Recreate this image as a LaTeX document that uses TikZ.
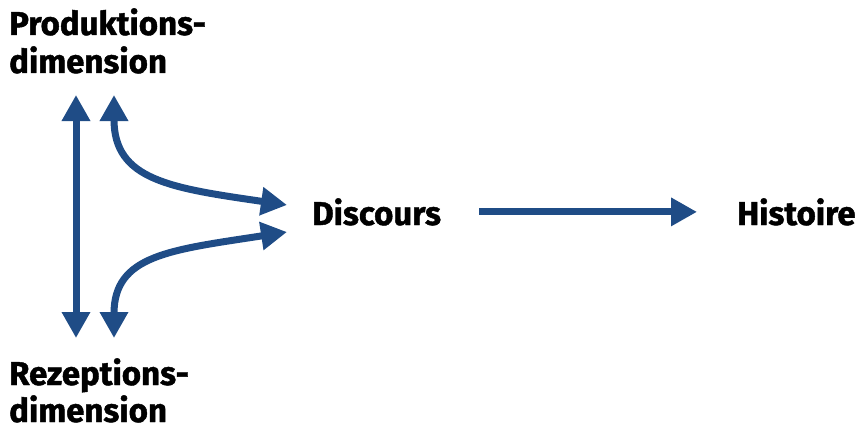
\documentclass[tikz,border=0pt]{standalone}
\usepackage{fontspec}
\setmainfont{Fira Sans}[BoldFeatures={FakeBold=1.3}]
\usetikzlibrary{arrows.meta}
\definecolor{flowblue}{RGB}{31,76,134}
\begin{document}
\begin{tikzpicture}[x=1pt,y=-1pt,
  lbl/.style={inner sep=0pt,font=\fontsize{33}{38}\selectfont\bfseries,text=black},
  flow/.style={draw=flowblue,line width=7pt,-{Triangle[width=27pt,length=26pt]}},
  flowboth/.style={draw=flowblue,line width=7pt,{Triangle[width=27pt,length=26pt]}-{Triangle[width=27pt,length=26pt]}}]
\useasboundingbox (0,0) rectangle (862,428);
\node[lbl,anchor=base west] (prod1) at (9,35) {Produktions-};
\node[lbl,anchor=base west] (prod2) at (9,73) {dimension};
\node[lbl,anchor=base west] (rez1) at (9,385) {Rezeptions-};
\node[lbl,anchor=base west] (rez2) at (9,422) {dimension};
\node[lbl,anchor=base west] (disc) at (312,225) {Discours};
\node[lbl,anchor=base west] (hist) at (737,225) {Histoire};
\coordinate (ptop) at (76,95);
\coordinate (pbot) at (76,338);
\coordinate (ctop) at (114,95);
\coordinate (cbot) at (114,338);
\coordinate (din1) at (287,205);
\coordinate (din2) at (287,232);
\draw[flowboth] (ptop) -- (pbot);
\draw[flowboth] (ctop) .. controls (114,180) and (170,188) .. (din1);
\draw[flowboth] (cbot) .. controls (114,255) and (170,250) .. (din2);
\draw[flow,shorten <=38pt,shorten >=40pt] (disc.east) -- (disc.east -| hist.west);
\end{tikzpicture}
\end{document}
